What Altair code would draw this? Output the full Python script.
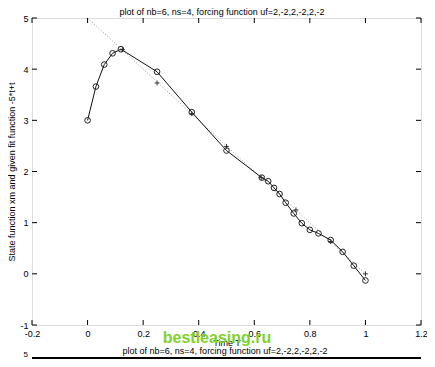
import altair as alt
import pandas as pd

# ---------------- data ----------------
title_text = "plot of nb=6, ns=4, forcing function uf=2,-2,2,-2,2,-2"
x_label = "Time T"
y_label = "State function xm and given fit function -5*t+t"
watermark = "bestleasing.ru"
next_title = "plot of nb=6, ns=4, forcing function uf=2,-2,2,-2,2,-2"
next_top_label = "5"

x_ticks = [-0.2, 0.0, 0.2, 0.4, 0.6, 0.8, 1.0, 1.2]
y_ticks = [-1, 0, 1, 2, 3, 4, 5]

# state function xm (circles joined by a solid line)
state_t = [0.0, 0.03, 0.06, 0.09, 0.12, 0.25, 0.375, 0.5, 0.627, 0.65, 0.671,
           0.691, 0.713, 0.742, 0.771, 0.80, 0.831, 0.875, 0.918, 0.958, 1.0]
state_y = [3.0, 3.66, 4.09, 4.31, 4.39, 3.95, 3.16, 2.41, 1.88, 1.81, 1.68,
           1.56, 1.39, 1.18, 0.99, 0.86, 0.79, 0.66, 0.43, 0.16, -0.13]

# given fit function (plus markers)
fit_t = [0.125, 0.25, 0.375, 0.5, 0.625, 0.75, 0.875, 1.0]
fit_y = [4.38, 3.73, 3.13, 2.49, 1.88, 1.25, 0.63, 0.0]

# dotted fit line
line_t = [0.0, 1.0]
line_y = [5.0, 0.0]

# ---------------- chart ----------------
W, H = 389, 307
FONT = "Liberation Sans"

state_df = pd.DataFrame({"t": state_t, "y": state_y})
fit_df = pd.DataFrame({"t": fit_t, "y": fit_y})
line_df = pd.DataFrame({"t": line_t, "y": line_y})
xt_df = pd.DataFrame({"t": x_ticks})
yt_df = pd.DataFrame({"y": y_ticks})
one = pd.DataFrame({"a": [0]})

xs = alt.Scale(domain=[-0.2, 1.2], nice=False, zero=False)
ys = alt.Scale(domain=[-1, 5], nice=False, zero=False)

x_axis = alt.Axis(values=x_ticks, title=x_label, ticks=False, tickSize=0, domain=False,
                  grid=False, labelExpr="'' + round(datum.value*10)/10",
                  labelFont=FONT, labelFontSize=9, labelColor="black", labelPadding=4,
                  labelFlush=False, labelOverlap=False,
                  titleFont=FONT, titleFontSize=9, titleFontWeight="normal",
                  titleColor="black", titlePadding=0)
y_axis = alt.Axis(values=y_ticks, title=y_label, ticks=False, tickSize=0, domain=False,
                  grid=False, labelExpr="'' + datum.value",
                  labelFont=FONT, labelFontSize=9, labelColor="black", labelPadding=4,
                  labelFlush=False, labelOverlap=False,
                  titleFont=FONT, titleFontSize=9, titleFontWeight="normal",
                  titleColor="black", titlePadding=3)

X = alt.X("t:Q", scale=xs, axis=x_axis)
Y = alt.Y("y:Q", scale=ys, axis=y_axis)

fit_line = alt.Chart(line_df).mark_line(color="#999999", strokeDash=[1, 2], strokeWidth=1).encode(
    x=X, y=Y)

state_line = alt.Chart(state_df).mark_line(color="#111111", strokeWidth=1).encode(x=X, y=Y)
state_pts = alt.Chart(state_df).mark_point(
    shape="circle", filled=False, color="#222222", strokeWidth=1, size=32, opacity=1
).encode(x=X, y=Y)
fit_pts = alt.Chart(fit_df).mark_point(
    shape="M-1,0L1,0M0,-1L0,1", filled=False, color="#222222", strokeWidth=0.9, size=24, opacity=1
).encode(x=X, y=Y)

TL = 5
xt_bot = alt.Chart(xt_df).mark_rule(color="black", strokeWidth=1).encode(
    x=X, y=alt.value(H), y2=alt.value(H - TL))
xt_top = alt.Chart(xt_df).mark_rule(color="black", strokeWidth=1).encode(
    x=X, y=alt.value(0), y2=alt.value(TL))
yt_left = alt.Chart(yt_df).mark_rule(color="black", strokeWidth=1).encode(
    y=Y, x=alt.value(0), x2=alt.value(TL))
yt_right = alt.Chart(yt_df).mark_rule(color="black", strokeWidth=1).encode(
    y=Y, x=alt.value(W), x2=alt.value(W - TL))

top_title = alt.Chart(one).mark_text(font=FONT, fontSize=9, color="black",
                                     align="center", baseline="top").encode(
    x=alt.value(190), y=alt.value(-10), text=alt.value(title_text))
wm = alt.Chart(one).mark_text(font=FONT, fontSize=16, fontWeight="bold", color="#7fd22a",
                              align="center", baseline="middle").encode(
    x=alt.value(185), y=alt.value(320), text=alt.value(watermark))
t2 = alt.Chart(one).mark_text(font=FONT, fontSize=9, color="black",
                              align="center", baseline="middle").encode(
    x=alt.value(193), y=alt.value(333), text=alt.value(next_title))
t2_five = alt.Chart(one).mark_text(font=FONT, fontSize=8, color="black",
                                   align="right", baseline="bottom").encode(
    x=alt.value(-4), y=alt.value(341), text=alt.value(next_top_label))
t2_frame = alt.Chart(one).mark_rule(color="black", strokeWidth=2).encode(
    x=alt.value(0), x2=alt.value(W), y=alt.value(340))

chart = alt.layer(
    fit_line, state_line, state_pts, fit_pts,
    xt_bot, xt_top, yt_left, yt_right,
    top_title, wm, t2, t2_five, t2_frame,
).properties(
    width=W, height=H,
    autosize=alt.AutoSizeParams(type="none"),
    padding={"left": 24, "top": 10, "right": 6, "bottom": 34},
).configure_view(
    stroke="black", strokeWidth=1
).configure(background="white")

chart.save("out.html", embed_options={"renderer": "svg", "actions": False})
